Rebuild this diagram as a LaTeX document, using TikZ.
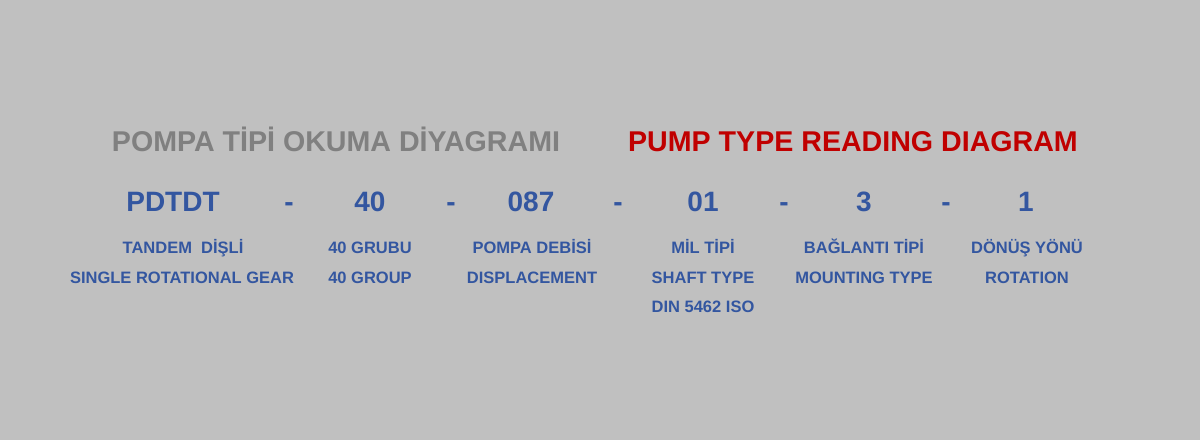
\documentclass[tikz,border=0pt]{standalone}
\usepackage{fontspec}
\setmainfont{Liberation Sans}
\definecolor{backgray}{HTML}{C0C0C0}
\definecolor{titlegray}{HTML}{808080}
\definecolor{titlered}{HTML}{C00000}
\definecolor{codeblue}{HTML}{3356A0}
\tikzstyle{title} = [inner sep=0, anchor=base, font=\fontsize{28.6}{34}\selectfont\bfseries]
\tikzstyle{code}  = [inner sep=0, anchor=base, text=codeblue, font=\fontsize{28}{33}\selectfont\bfseries]
\tikzstyle{label} = [inner sep=0, anchor=base, text=codeblue, font=\fontsize{16.5}{20}\selectfont\bfseries]

\begin{document}
\begin{tikzpicture}[x=1pt, y=-1pt]
\fill[backgray] (0,0) rectangle (1200,440);
\useasboundingbox (0,0) rectangle (1200,440);
\node[title, text=titlegray] (trtitle) at (336,151) {POMPA TİPİ OKUMA DİYAGRAMI};
\node[title, text=titlered]  (entitle) at (853,151) {PUMP TYPE READING DIAGRAM};
% code row
\node[code] (series)   at (173,211) {PDTDT};
\node[code] (dash1)    at (289,211) {-};
\node[code] (group)    at (370,211) {40};
\node[code] (dash2)    at (451,211) {-};
\node[code] (flow)     at (531,211) {087};
\node[code] (dash3)    at (618,211) {-};
\node[code] (shaft)    at (703,211) {01};
\node[code] (dash4)    at (784,211) {-};
\node[code] (mount)    at (864,211) {3};
\node[code] (dash5)    at (946,211) {-};
\node[code] (rotation) at (1026,211) {1};
% labels
\node[label] (series1)   at (183,253) {TANDEM\ \ DİŞLİ};
\node[label] (series2)   at (182,283) {SINGLE ROTATIONAL GEAR};
\node[label] (group1)    at (370,253) {40 GRUBU};
\node[label] (group2)    at (370,283) {40 GROUP};
\node[label] (flow1)     at (532,253) {POMPA DEBİSİ};
\node[label] (flow2)     at (532,283) {DISPLACEMENT};
\node[label] (shaft1)    at (703,253) {MİL TİPİ};
\node[label] (shaft2)    at (703,283) {SHAFT TYPE};
\node[label] (shaft3)    at (703,312) {DIN 5462 ISO};
\node[label] (mount1)    at (864,253) {BAĞLANTI TİPİ};
\node[label] (mount2)    at (864,283) {MOUNTING TYPE};
\node[label] (rotation1) at (1027,253) {DÖNÜŞ YÖNÜ};
\node[label] (rotation2) at (1027,283) {ROTATION};
\end{tikzpicture}
\end{document}
